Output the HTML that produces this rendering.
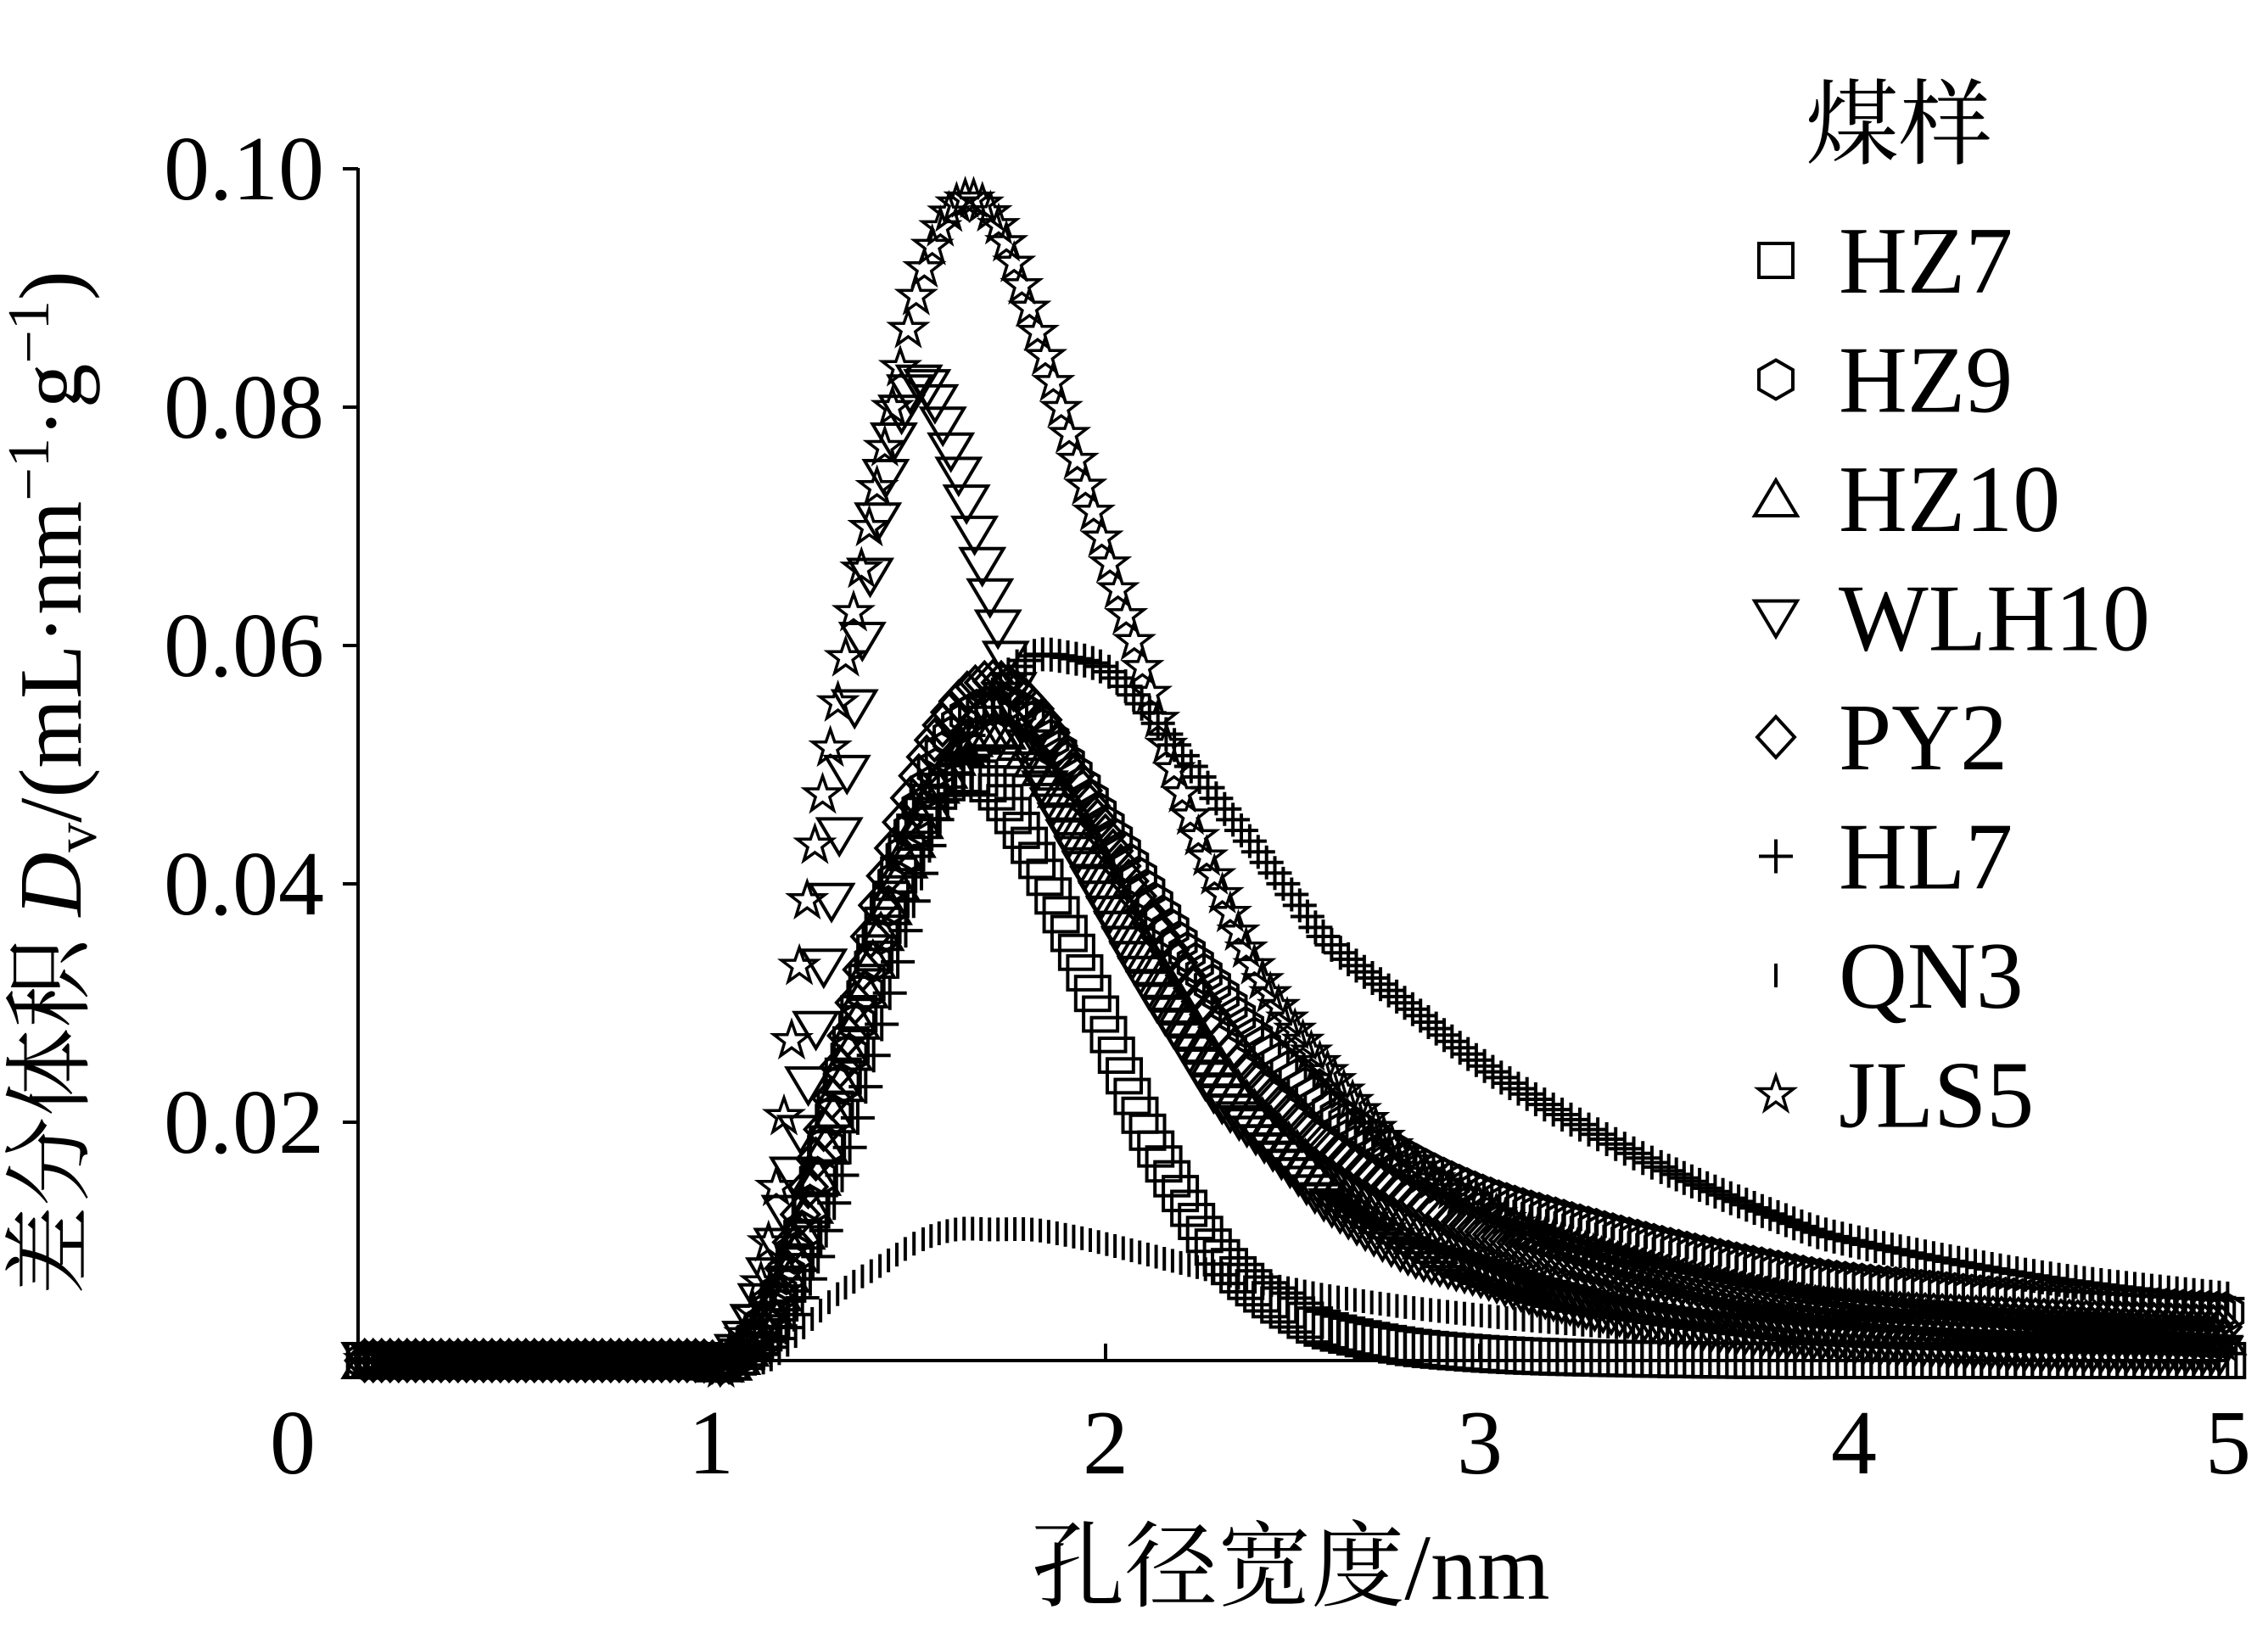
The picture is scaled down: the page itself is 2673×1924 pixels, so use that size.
<!DOCTYPE html>
<html><head><meta charset="utf-8"><style>
body{margin:0;background:#fff}
svg{display:block}
text{font-family:"Liberation Serif","Noto Serif CJK SC",serif;fill:#000}
</style></head><body>
<svg id="chart" width="2673" height="1924" viewBox="0 0 2673 1924" xmlns="http://www.w3.org/2000/svg">
<defs>
<g id="m-square"><rect x="-20" y="-20" width="40" height="40" fill="none" stroke="#000" stroke-width="4"/></g>
<g id="m-hex"><polygon points="0,-23 20,-11.5 20,11.5 0,23 -20,11.5 -20,-11.5" fill="none" stroke="#000" stroke-width="4"/></g>
<g id="m-tri"><polygon points="0,-22 25,20 -25,20" fill="none" stroke="#000" stroke-width="4"/></g>
<g id="m-tridown"><polygon points="0,22 25,-20 -25,-20" fill="none" stroke="#000" stroke-width="4"/></g>
<g id="m-diamond"><polygon points="0,-24 22,0 0,24 -22,0" fill="none" stroke="#000" stroke-width="4"/></g>
<g id="m-plus"><path d="M-20,0H20M0,-20V20" stroke="#000" stroke-width="4"/></g>
<g id="m-bar"><path d="M0,-14V14" stroke="#000" stroke-width="4"/></g>
<g id="m-star"><polygon points="0,-22 5.2,-7 21,-7 8.4,2.7 13,18 0,8.6 -13,18 -8.4,2.7 -21,-7 -5.2,-7" fill="none" stroke="#000" stroke-width="3.5"/></g>
</defs>
<g id="axes"></g>
<g id="plot"></g>
<text x="1521" y="1885" font-size="110" text-anchor="middle">孔径宽度/nm</text>
<g transform="translate(95,923) rotate(-90)">
<text x="0" y="0" font-size="105" text-anchor="middle">差分体积 <tspan font-style="italic">D</tspan><tspan font-size="70" dy="18">v</tspan><tspan dy="-18">/(mL·nm</tspan><tspan font-size="70" dy="-38">−1</tspan><tspan dy="38">·g</tspan><tspan font-size="70" dy="-38">−1</tspan><tspan dy="38">)</tspan></text>
</g>
<g id="legend">
<text x="2128" y="185" font-size="110">煤样</text>
</g>
</svg>
<script>
const xs = [0.02,0.5,0.9,1.0,1.1,1.2,1.3,1.4,1.5,1.6,1.7,1.8,1.9,2.0,2.1,2.2,2.3,2.4,2.5,2.6,2.8,3.0,3.2,3.5,3.8,4.0,4.5,5.0];
const hz7 = [0,0,0,0,.003,.011,.024,.036,.045,.049,.048,.043,.036,.028,.020,.014,.009,.006,.004,.0025,.0012,.0006,.0003,.0001,0,0,0,0];
const hz9 = [0,0,0,0,.004,.012,.024,.036,.046,.053,.055,.054,.050,.045,.040,.035,.031,.027,.024,.021,.017,.014,.012,.0095,.0075,.0065,.005,.004];
const hz10 = [0,0,0,0,.004,.012,.024,.036,.045,.051,.053,.051,.047,.041,.035,.030,.025,.021,.018,.015,.011,.008,.006,.0045,.0033,.0027,.0022,.002];
const wlh10 = [0,0,0,0,.007,.022,.047,.072,.082,.075,.063,.051,.044,.038,.032,.027,.022,.019,.016,.013,.009,.007,.005,.003,.002,.0015,.0008,.0005];
const py2 = [0,0,0,0,.004,.014,.026,.039,.049,.055,.057,.055,.050,.044,.038,.033,.028,.024,.021,.018,.014,.011,.009,.0068,.005,.0042,.0034,.0028];
const hl7 = [0,0,0,0,.001,.006,.016,.028,.040,.050,.056,.059,.059,.058,.055,.051,.047,.043,.039,.035,.030,.025,.021,.016,.012,.010,.007,.0052];
const qn3 = [0,0,0,0,0,.003,.006,.008,.010,.011,.011,.011,.0105,.0098,.009,.0082,.0074,.0066,.006,.0054,.0045,.0038,.0032,.0025,.002,.0017,.0014,.0012];
const jls5 = [0,0,0,0,.010,.038,.058,.075,.090,.097,.096,.088,.078,.068,.058,.048,.040,.033,.028,.024,.017,.013,.010,.007,.005,.004,.0025,.0015];
const seriesNames = ["HZ7","HZ9","HZ10","WLH10","PY2","HL7","QN3","JLS5"];
const seriesMarkers = ["m-square","m-hex","m-tri","m-tridown","m-diamond","m-plus","m-bar","m-star"];
const xTicks = [0,1,2,3,4,5];
const yTicks = [0.02,0.04,0.06,0.08,0.10];
const yTickLabels = ["0.02","0.04","0.06","0.08","0.10"];

const NS="http://www.w3.org/2000/svg";
const X0=421, XS=441, Y0=1604, YS=281/0.02;
const sx=v=>X0+v*XS, sy=v=>Y0-v*YS;
function mk(tag,attrs,parent){const e=document.createElementNS(NS,tag);for(const k in attrs)e.setAttribute(k,attrs[k]);parent.appendChild(e);return e;}

const axes=document.getElementById('axes');
let a=mk('line',{x1:422,y1:198,x2:422,y2:Y0,stroke:'#000','stroke-width':4},axes);


a=mk('line',{x1:420,y1:Y0,x2:sx(5),y2:Y0,stroke:'#000','stroke-width':4},axes);


yTicks.forEach((t,i)=>{
  const l=mk('line',{x1:404,y1:sy(t),x2:422,y2:sy(t),stroke:'#000','stroke-width':4},axes);
  
  
  const tx=mk('text',{x:382,y:sy(t)+36,'font-size':108,'text-anchor':'end'},axes);
  tx.textContent=yTickLabels[i];
  
  
});
xTicks.forEach(t=>{
  if(t>0){const l=mk('line',{x1:sx(t),y1:Y0,x2:sx(t),y2:Y0-20,stroke:'#000','stroke-width':4},axes);
  
  }
  const tx=mk('text',{x:t==0?345:(t==1?838:sx(t)),y:1737,'font-size':108,'text-anchor':'middle'},axes);
  tx.textContent=String(t);
  
  
});

const plot=document.getElementById('plot');
const allSeries=[hz7,hz9,hz10,wlh10,py2,hl7,qn3,jls5];
allSeries.forEach((vals,si)=>{
  const g=mk('g',{},plot);
  
  
  const pts=xs.map((x,i)=>[sx(x),sy(vals[i])]);
  let d='M'+pts[0][0]+','+pts[0][1];
  for(let i=0;i<pts.length-1;i++){
    const p0=pts[Math.max(0,i-1)],p1=pts[i],p2=pts[i+1],p3=pts[Math.min(pts.length-1,i+2)];
    const c1=[p1[0]+(p2[0]-p0[0])/6,p1[1]+(p2[1]-p0[1])/6];
    const c2=[p2[0]-(p3[0]-p1[0])/6,p2[1]-(p3[1]-p1[1])/6];
    d+=` C${c1[0]},${c1[1]} ${c2[0]},${c2[1]} ${p2[0]},${p2[1]}`;
  }
  const path=mk('path',{d:d,fill:'none',stroke:'none'},g);
  const L=path.getTotalLength();
  let lastX=-1e9;
  for(let s=0;s<=L;s+=2){
    const p=path.getPointAtLength(s);
    if(p.x-lastX>=9||s===0){
      lastX=p.x;
      const u=mk('use',{href:'#'+seriesMarkers[si],x:p.x.toFixed(1),y:p.y.toFixed(1)},g);
      
      
    }
  }
});

const legend=document.getElementById('legend');
seriesNames.forEach((n,i)=>{
  const cy=307+i*140.5;
  const g=mk('g',{},legend);
  
  
  mk('use',{href:'#'+seriesMarkers[i],x:2093,y:cy},g);
  const t=mk('text',{x:2167,y:cy+38,'font-size':112},g);
  t.textContent=n;
});
</script>
</body></html>
